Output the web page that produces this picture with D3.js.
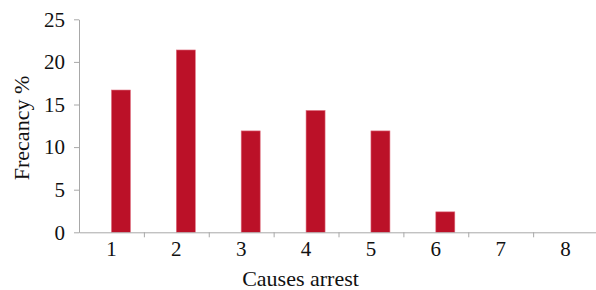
<!DOCTYPE html>
<html>
<head>
<meta charset="utf-8">
<script src="https://cdn.jsdelivr.net/npm/d3@7"></script>
<style>
  body { margin: 0; background: #fff; }
  svg { display: block; }
  .domain, .tick line { stroke: #a8a8a8; }
</style>
</head>
<body>
<svg id="chart" width="596" height="290"></svg>
<script>
// causes of arrest, frequency in %
let causes = ["1", "2", "3", "4", "5", "6", "7", "8"];
let frequency = [16.7, 21.4, 11.9, 14.3, 11.9, 2.4, 0, 0];
let yTicks = [0, 5, 10, 15, 20, 25];

let serif = "Liberation Serif";
let svg = d3.select("#chart");
let plotLeft = 79, plotRight = 598, plotTop = 19.3, plotBottom = 232.3;

let x = d3.scaleBand().domain(causes).range([plotLeft, plotRight]);
let xEdge = d3.scaleLinear().domain([0, causes.length]).range([plotLeft, plotRight]);
let y = d3.scaleLinear().domain([0, 25]).range([plotBottom, plotTop]);

// bars start at the band centre (second series of the cluster is empty)
svg.selectAll("rect.bar")
    .data(causes)
    .enter().append("rect")
    .attr("class", "bar")
    .attr("x", d => x(d) + x.bandwidth() / 2)
    .attr("width", 19)
    .attr("y", (d, i) => y(frequency[i]))
    .attr("height", (d, i) => plotBottom - y(frequency[i]))
    .attr("fill", "#bb1128")
    .attr("stroke", "#e07080")
    .attr("stroke-width", 0.6);

// x axis: line with ticks between categories
svg.append("g")
    .attr("transform", "translate(0," + plotBottom + ")")
    .call(d3.axisBottom(xEdge)
        .tickValues(d3.range(1, causes.length))
        .tickSize(5).tickSizeOuter(0).tickFormat(""));

// x labels at band centres
let xl = svg.append("g")
    .attr("transform", "translate(0," + plotBottom + ")")
    .call(d3.axisBottom(x).tickSize(0));
xl.select(".domain").remove();
xl.attr("font-family", serif).attr("font-size", 21);
xl.selectAll("text").attr("y", 24).attr("dy", 0).attr("fill", "#111");

// y axis
let yl = svg.append("g")
    .attr("transform", "translate(" + plotLeft + ",0)")
    .call(d3.axisLeft(y).tickValues(yTicks).tickSize(5).tickSizeOuter(0).tickPadding(9));
yl.attr("font-family", serif).attr("font-size", 21);
yl.selectAll("text").attr("fill", "#111");

svg.append("text")
    .attr("x", 300.5)
    .attr("y", 286)
    .attr("text-anchor", "middle")
    .attr("font-family", serif)
    .attr("font-size", 22)
    .attr("fill", "#111")
    .text("Causes arrest");

svg.append("text")
    .attr("transform", "translate(29,128) rotate(-90)")
    .attr("text-anchor", "middle")
    .attr("font-family", serif)
    .attr("font-size", 22)
    .attr("fill", "#111")
    .text("Frecancy %");
</script>
</body>
</html>
